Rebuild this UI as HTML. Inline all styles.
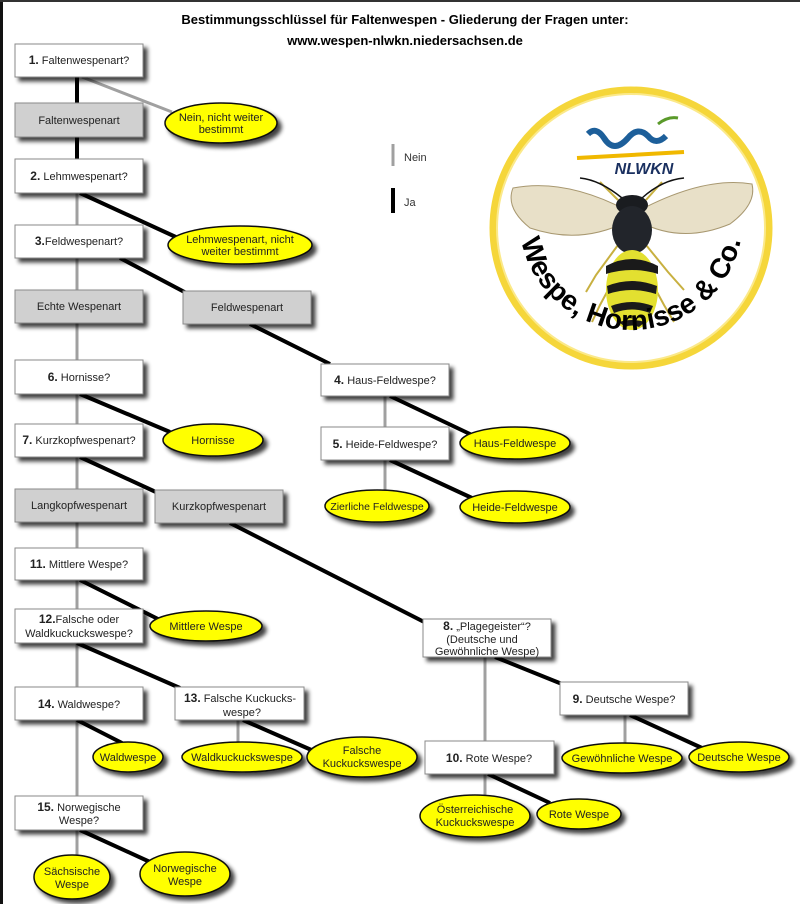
<!DOCTYPE html>
<html><head><meta charset="utf-8"><style>
html,body{margin:0;padding:0;background:#fff}
svg{display:block}
text{font-family:"Liberation Sans",Arial,sans-serif}
</style></head><body>
<svg width="800" height="904" viewBox="0 0 800 904" xmlns="http://www.w3.org/2000/svg">
<defs>
<filter id="sh" x="-20%" y="-20%" width="150%" height="160%">
<feGaussianBlur in="SourceAlpha" stdDeviation="2"/>
<feOffset dx="4" dy="4" result="b"/>
<feComponentTransfer><feFuncA type="linear" slope="0.75"/></feComponentTransfer>
<feMerge><feMergeNode/><feMergeNode in="SourceGraphic"/></feMerge>
</filter>
<path id="arc" d="M 519 218 A 112 112 0 1 0 743 218"/>
</defs>
<rect x="0" y="0" width="800" height="904" fill="#fff"/>
<rect x="0" y="0" width="3" height="904" fill="#111"/>
<rect x="0" y="0" width="800" height="2" fill="#333"/>

<text x="405" y="24" font-size="13" font-weight="bold" text-anchor="middle">Bestimmungsschlüssel für Faltenwespen - Gliederung der Fragen unter:</text>
<text x="405" y="45" font-size="13" font-weight="bold" text-anchor="middle">www.wespen-nlwkn.niedersachsen.de</text>

<g stroke="#a0a0a0" stroke-width="3" fill="none">
<line x1="82" y1="77" x2="172" y2="112"/>
<line x1="77" y1="193" x2="77" y2="225"/>
<line x1="77" y1="258" x2="77" y2="860"/>
<line x1="385" y1="396" x2="385" y2="427"/>
<line x1="385" y1="460" x2="385" y2="492"/>
<line x1="238" y1="720" x2="238" y2="744"/>
<line x1="485" y1="657" x2="485" y2="741"/>
<line x1="625" y1="715" x2="625" y2="745"/>
<line x1="485" y1="774" x2="485" y2="798"/>
<line x1="393" y1="144" x2="393" y2="166"/>
</g>
<g stroke="#000" stroke-width="4" fill="none">
<line x1="77" y1="77" x2="77" y2="103"/>
<line x1="77" y1="137" x2="77" y2="159"/>
<line x1="80" y1="193" x2="178" y2="238"/>
<line x1="120" y1="258" x2="192" y2="296"/>
<line x1="250" y1="324" x2="330" y2="364"/>
<line x1="80" y1="394" x2="170" y2="432"/>
<line x1="80" y1="457" x2="158" y2="493"/>
<line x1="230" y1="523" x2="432" y2="626"/>
<line x1="390" y1="396" x2="472" y2="435"/>
<line x1="390" y1="460" x2="472" y2="498"/>
<line x1="80" y1="580" x2="160" y2="620"/>
<line x1="77" y1="643" x2="180" y2="688"/>
<line x1="77" y1="720" x2="122" y2="743"/>
<line x1="243" y1="720" x2="316" y2="752"/>
<line x1="495" y1="657" x2="562" y2="684"/>
<line x1="630" y1="715" x2="702" y2="748"/>
<line x1="488" y1="774" x2="550" y2="803"/>
<line x1="80" y1="830" x2="150" y2="862"/>
<line x1="393" y1="188" x2="393" y2="213"/>
</g>
<text x="404" y="161" font-size="11" fill="#333">Nein</text>
<text x="404" y="206" font-size="11" fill="#333">Ja</text>

<g filter="url(#sh)" stroke="#8a8a8a" stroke-width="1">
<rect x="15" y="44" width="128" height="33" fill="#fff"/>
<rect x="15" y="103" width="128" height="34" fill="#d0d0d0"/>
<rect x="15" y="159" width="128" height="34" fill="#fff"/>
<rect x="15" y="225" width="128" height="33" fill="#fff"/>
<rect x="15" y="290" width="128" height="33" fill="#d0d0d0"/>
<rect x="183" y="291" width="128" height="33" fill="#d0d0d0"/>
<rect x="15" y="360" width="128" height="34" fill="#fff"/>
<rect x="321" y="364" width="128" height="32" fill="#fff"/>
<rect x="15" y="424" width="128" height="33" fill="#fff"/>
<rect x="321" y="427" width="128" height="33" fill="#fff"/>
<rect x="15" y="489" width="128" height="33" fill="#d0d0d0"/>
<rect x="155" y="490" width="128" height="33" fill="#d0d0d0"/>
<rect x="15" y="548" width="128" height="32" fill="#fff"/>
<rect x="15" y="609" width="128" height="34" fill="#fff"/>
<rect x="423" y="619" width="128" height="38" fill="#fff"/>
<rect x="15" y="687" width="128" height="33" fill="#fff"/>
<rect x="175" y="687" width="129" height="33" fill="#fff"/>
<rect x="560" y="682" width="128" height="33" fill="#fff"/>
<rect x="425" y="741" width="129" height="33" fill="#fff"/>
<rect x="15" y="796" width="128" height="34" fill="#fff"/>
</g>
<g font-size="11" fill="#222" text-anchor="middle">
<text x="79" y="64"><tspan font-weight="bold" font-size="12">1.</tspan> Faltenwespenart?</text>
<text x="79" y="124">Faltenwespenart</text>
<text x="79" y="180"><tspan font-weight="bold" font-size="12">2.</tspan> Lehmwespenart?</text>
<text x="79" y="245"><tspan font-weight="bold" font-size="12">3.</tspan>Feldwespenart?</text>
<text x="79" y="310">Echte Wespenart</text>
<text x="247" y="311">Feldwespenart</text>
<text x="79" y="381"><tspan font-weight="bold" font-size="12">6.</tspan> Hornisse?</text>
<text x="385" y="384"><tspan font-weight="bold" font-size="12">4.</tspan> Haus-Feldwespe?</text>
<text x="79" y="444"><tspan font-weight="bold" font-size="12">7.</tspan> Kurzkopfwespenart?</text>
<text x="385" y="448"><tspan font-weight="bold" font-size="12">5.</tspan> Heide-Feldwespe?</text>
<text x="79" y="509">Langkopfwespenart</text>
<text x="219" y="510">Kurzkopfwespenart</text>
<text x="79" y="568"><tspan font-weight="bold" font-size="12">11.</tspan> Mittlere Wespe?</text>
<text x="79" y="623"><tspan font-weight="bold" font-size="12">12.</tspan>Falsche oder</text>
<text x="79" y="637">Waldkuckuckswespe?</text>
<text x="487" y="630"><tspan font-weight="bold" font-size="12">8.</tspan> „Plagegeister“?</text>
<text x="482" y="643">(Deutsche und</text>
<text x="487" y="655">Gewöhnliche Wespe)</text>
<text x="79" y="708"><tspan font-weight="bold" font-size="12">14.</tspan> Waldwespe?</text>
<text x="240" y="702"><tspan font-weight="bold" font-size="12">13.</tspan> Falsche Kuckucks-</text>
<text x="242" y="716">wespe?</text>
<text x="624" y="703"><tspan font-weight="bold" font-size="12">9.</tspan> Deutsche Wespe?</text>
<text x="489" y="762"><tspan font-weight="bold" font-size="12">10.</tspan> Rote Wespe?</text>
<text x="79" y="811"><tspan font-weight="bold" font-size="12">15.</tspan> Norwegische</text>
<text x="79" y="824">Wespe?</text>
</g>

<g filter="url(#sh)" fill="#ffff00" stroke="#111" stroke-width="1.5">
<ellipse cx="221" cy="123" rx="56" ry="20"/>
<ellipse cx="240" cy="245" rx="72" ry="19"/>
<ellipse cx="213" cy="440" rx="50" ry="16"/>
<ellipse cx="515" cy="443" rx="55" ry="16"/>
<ellipse cx="377" cy="506" rx="52" ry="16"/>
<ellipse cx="515" cy="507" rx="55" ry="16"/>
<ellipse cx="206" cy="626" rx="56" ry="15"/>
<ellipse cx="128" cy="757" rx="35" ry="15"/>
<ellipse cx="242" cy="757" rx="60" ry="15"/>
<ellipse cx="362" cy="757" rx="55" ry="20"/>
<ellipse cx="622" cy="758" rx="60" ry="15"/>
<ellipse cx="739" cy="757" rx="50" ry="15"/>
<ellipse cx="475" cy="816" rx="55" ry="21"/>
<ellipse cx="579" cy="814" rx="42" ry="15"/>
<ellipse cx="72" cy="877" rx="38" ry="22"/>
<ellipse cx="185" cy="874" rx="45" ry="22"/>
</g>
<g font-size="11" fill="#222" text-anchor="middle">
<text x="221" y="121">Nein, nicht weiter</text><text x="221" y="133">bestimmt</text>
<text x="240" y="243">Lehmwespenart, nicht</text><text x="240" y="255">weiter bestimmt</text>
<text x="213" y="444">Hornisse</text>
<text x="515" y="447">Haus-Feldwespe</text>
<text x="377" y="510" font-size="10.5">Zierliche Feldwespe</text>
<text x="515" y="511">Heide-Feldwespe</text>
<text x="206" y="630">Mittlere Wespe</text>
<text x="128" y="761">Waldwespe</text>
<text x="242" y="761">Waldkuckuckswespe</text>
<text x="362" y="754">Falsche</text><text x="362" y="767">Kuckuckswespe</text>
<text x="622" y="762">Gewöhnliche Wespe</text>
<text x="739" y="761">Deutsche Wespe</text>
<text x="475" y="813">Österreichische</text><text x="475" y="826">Kuckuckswespe</text>
<text x="579" y="818">Rote Wespe</text>
<text x="72" y="875">Sächsische</text><text x="72" y="888">Wespe</text>
<text x="185" y="872">Norwegische</text><text x="185" y="885">Wespe</text>
</g>

<!-- logo -->
<circle cx="631" cy="228" r="138" fill="#fff" stroke="#f5d63a" stroke-width="7"/>
<circle cx="631" cy="228" r="134" fill="none" stroke="#fbe98a" stroke-width="2"/>
<path d="M588 134 q8 -8 16 4 q10 16 24 0 q10 -12 20 -2 q8 10 18 0" fill="none" stroke="#1d5f9a" stroke-width="6"/>
<path d="M658 124 q10 -8 20 -6" fill="none" stroke="#5a9a2a" stroke-width="3"/>
<path d="M577 158 L684 152" stroke="#f0b800" stroke-width="4"/>
<text x="644" y="174" font-size="16" font-weight="bold" font-style="italic" fill="#1a3060" text-anchor="middle">NLWKN</text>
<path d="M626 210 Q565 178 513 188 Q505 208 530 228 Q580 245 626 222 Z" fill="#e8e0c8" stroke="#a89870" stroke-width="1"/>
<path d="M640 210 Q705 176 752 184 Q757 204 730 224 Q682 244 640 222 Z" fill="#e8e0c8" stroke="#a89870" stroke-width="1"/>
<g stroke="#c8b040" stroke-width="2" fill="none">
<path d="M618 245 L596 275 L586 292"/><path d="M646 245 L668 272 L684 290"/>
<path d="M620 268 L600 305 L592 322"/><path d="M644 268 L664 305 L674 322"/>
<path d="M618 200 L600 182"/><path d="M646 200 L662 182"/>
</g>
<path d="M622 198 Q600 180 580 178" stroke="#111" stroke-width="1.5" fill="none"/>
<path d="M642 198 Q662 180 684 178" stroke="#111" stroke-width="1.5" fill="none"/>
<ellipse cx="632" cy="205" rx="16" ry="10" fill="#1a1c20"/>
<ellipse cx="632" cy="230" rx="20" ry="24" fill="#22252b"/>
<ellipse cx="632" cy="290" rx="26" ry="40" fill="#e3e030"/>
<g fill="#1a1a1a">
<path d="M606 266 Q632 252 658 266 L658 274 Q632 266 606 274Z"/>
<path d="M607 286 Q632 276 657 286 L656 294 Q632 286 608 294Z"/>
<path d="M611 306 Q632 298 653 306 L650 313 Q632 306 614 313Z"/>
<path d="M619 322 Q632 318 645 322 L639 327 Q632 324 625 327Z"/>
</g>
<text font-size="28" font-weight="bold" fill="#000"><textPath href="#arc" startOffset="50%" text-anchor="middle">Wespe, Hornisse &amp; Co.</textPath></text>
</svg>
</body></html>
